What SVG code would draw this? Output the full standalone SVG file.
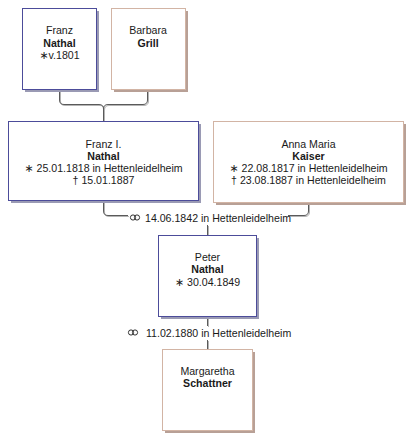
<svg xmlns="http://www.w3.org/2000/svg" width="420" height="446" viewBox="0 0 420 446">
<style>
.t{font-family:"Liberation Sans",Arial,sans-serif;font-size:10.6px;fill:#1a1a1a;text-anchor:middle}
.b{font-weight:bold}
.st{font-family:"DejaVu Sans",sans-serif;font-size:11px}
.ring{fill:none;stroke:#333;stroke-width:1}
.m{fill:#fff;stroke:#4c4c9a;stroke-width:1}
.ms{fill:#9a9ab4}
.f{fill:#fff;stroke:#d2b4a4;stroke-width:1}
.fs{fill:#b8a096}
.c{fill:none;stroke:#5a5a5a;stroke-width:1}
.cl{fill:none;stroke:#b4b4b4;stroke-width:1}
</style>
<defs>
<g id="marr"><circle class="ring" cx="-2" cy="0" r="2.6"/><circle class="ring" cx="2" cy="0" r="2.6"/></g>
</defs>
<rect width="420" height="446" fill="#fff"/>
<g id="connectors">
<g transform="translate(1,1)">
<path class="cl" d="M59.5,89 V100 Q59.5,104.5 64,104.5 H99 Q103.5,104.5 103.5,109 V121 M147.5,89 V100 Q147.5,104.5 143,104.5 H108 Q103.5,104.5 103.5,109"/>
<path class="cl" d="M103.5,201 V211 Q103.5,215.5 108,215.5 H128 M288,215.5 H304 Q308.5,215.5 308.5,211 V202 M207.5,225 V235"/>
<path class="cl" d="M207.5,316 V326 M207.5,340 V349"/>
</g>
<path class="c" d="M59.5,89 V100 Q59.5,104.5 64,104.5 H99 Q103.5,104.5 103.5,109 V121 M147.5,89 V100 Q147.5,104.5 143,104.5 H108 Q103.5,104.5 103.5,109"/>
<path class="c" d="M103.5,201 V211 Q103.5,215.5 108,215.5 H128 M288,215.5 H304 Q308.5,215.5 308.5,211 V202 M207.5,225 V235"/>
<path class="c" d="M207.5,316 V326 M207.5,340 V349"/>
<use href="#marr" x="135" y="217.5"/>
<text class="t" x="145" y="221.5" style="text-anchor:start">14.06.1842 in Hettenleidelheim</text>
<use href="#marr" x="133" y="332.5"/>
<text class="t" x="146" y="336.5" style="text-anchor:start">11.02.1880 in Hettenleidelheim</text>
</g>
<g id="franz">
<rect class="ms" x="25" y="11" width="74" height="81"/>
<rect class="m" x="22.5" y="8.5" width="74" height="81"/>
<text class="t" x="59.5" y="34">Franz</text>
<text class="t b" x="59.5" y="46.5">Nathal</text>
<text class="t" x="59.5" y="59"><tspan class="st">∗</tspan>v.1801</text>
</g>
<g id="barbara">
<rect class="fs" x="114" y="11" width="74" height="81"/>
<rect class="f" x="111.5" y="8.5" width="74" height="81"/>
<text class="t" x="148" y="34">Barbara</text>
<text class="t b" x="148" y="46.5">Grill</text>
</g>
<g id="franz-i">
<rect class="ms" x="11" y="124" width="190" height="79"/>
<rect class="m" x="8.5" y="121.5" width="190" height="79"/>
<text class="t" x="103.5" y="148">Franz I.</text>
<text class="t b" x="103.5" y="160">Nathal</text>
<text class="t" x="103.5" y="172"><tspan class="st">∗</tspan> 25.01.1818 in Hettenleidelheim</text>
<text class="t" x="103.5" y="184">† 15.01.1887</text>
</g>
<g id="anna-maria">
<rect class="fs" x="216" y="124" width="190" height="81"/>
<rect class="f" x="213.5" y="121.5" width="190" height="81"/>
<text class="t" x="308.5" y="148">Anna Maria</text>
<text class="t b" x="308.5" y="160">Kaiser</text>
<text class="t" x="308.5" y="172"><tspan class="st">∗</tspan> 22.08.1817 in Hettenleidelheim</text>
<text class="t" x="308.5" y="184">† 23.08.1887 in Hettenleidelheim</text>
</g>
<g id="peter">
<rect class="ms" x="161" y="238" width="98" height="81"/>
<rect class="m" x="158.5" y="235.5" width="98" height="81"/>
<text class="t" x="207.5" y="260.5">Peter</text>
<text class="t b" x="207.5" y="273">Nathal</text>
<text class="t" x="207.5" y="285.5"><tspan class="st">∗</tspan> 30.04.1849</text>
</g>
<g id="margaretha">
<rect class="fs" x="165" y="352" width="90" height="81"/>
<rect class="f" x="162.5" y="349.5" width="90" height="81"/>
<text class="t" x="207.5" y="374.5">Margaretha</text>
<text class="t b" x="207.5" y="387">Schattner</text>
</g>
</svg>
